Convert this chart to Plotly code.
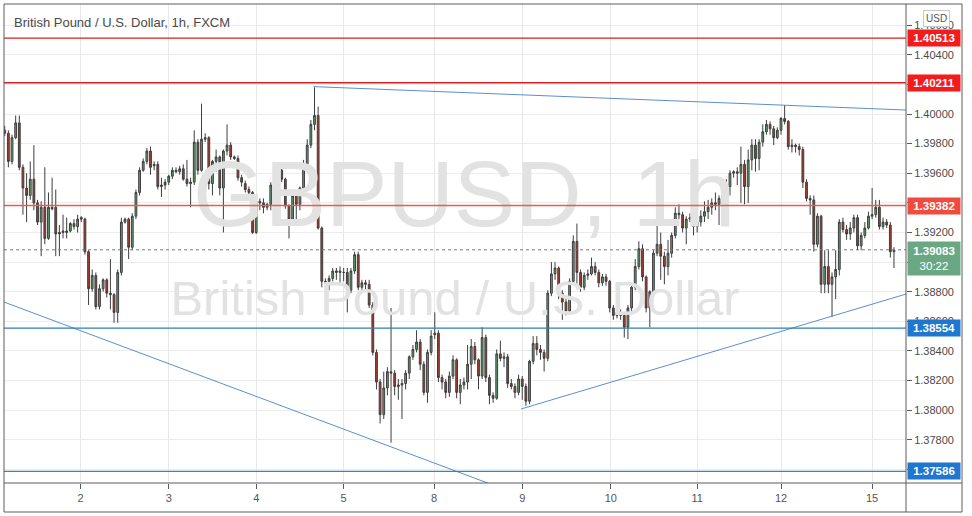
import plotly.graph_objects as go

# ---------------- data ----------------
day_ticks = [20.8, 45, 69, 93, 117.8, 142, 166.3, 190, 213, 238]
day_labels = ["2", "3", "4", "5", "8", "9", "10", "11", "12", "15"]

opens = [
    1.3989, 1.3987, 1.3968, 1.3984, 1.3994, 1.3964, 1.3950, 1.3945, 1.3956, 1.3940,
    1.3927, 1.3937, 1.3916, 1.3937, 1.3937, 1.3919, 1.3920, 1.3920, 1.3921, 1.3926,
    1.3924, 1.3929, 1.3929, 1.3907, 1.3882, 1.3891, 1.3870, 1.3882, 1.3888, 1.3879,
    1.3878, 1.3866, 1.3893, 1.3927, 1.3929, 1.3910, 1.3931, 1.3947, 1.3962, 1.3968,
    1.3975, 1.3965, 1.3966, 1.3951, 1.3952, 1.3954, 1.3958, 1.3962, 1.3961, 1.3963,
    1.3956, 1.3953, 1.3954, 1.3981, 1.3962, 1.3983, 1.3984, 1.3953, 1.3968, 1.3971,
    1.3950, 1.3975, 1.3979, 1.3971, 1.3970, 1.3957, 1.3953, 1.3949, 1.3947, 1.3920,
    1.3941, 1.3940, 1.3937, 1.3939, 1.3952, 1.3956, 1.3962, 1.3956, 1.3938, 1.3929,
    1.3945, 1.3939, 1.3950, 1.3963, 1.3979, 1.3993, 1.3999, 1.3923, 1.3887, 1.3887,
    1.3889, 1.3893, 1.3894, 1.3893, 1.3893, 1.3881, 1.3894, 1.3905, 1.3883, 1.3886,
    1.3885, 1.3871, 1.3839, 1.3819, 1.3797, 1.3815, 1.3826, 1.3825, 1.3816, 1.3817,
    1.3818, 1.3825, 1.3836, 1.3841, 1.3846, 1.3831, 1.3812, 1.3839, 1.3851, 1.3852,
    1.3822, 1.3819, 1.3812, 1.3823, 1.3834, 1.3812, 1.3817, 1.3819, 1.3831, 1.3843,
    1.3834, 1.3823, 1.3849, 1.3822, 1.3810, 1.3808, 1.3838, 1.3835, 1.3836, 1.3818,
    1.3816, 1.3812, 1.3821, 1.3816, 1.3806, 1.3833, 1.3845, 1.3841, 1.3839, 1.3835,
    1.3879, 1.3892, 1.3896, 1.3879, 1.3873, 1.3867, 1.3887, 1.3914, 1.3893, 1.3883,
    1.3891, 1.3892, 1.3897, 1.3893, 1.3886, 1.3890, 1.3887, 1.3869, 1.3864, 1.3866,
    1.3864, 1.3856, 1.3869, 1.3883, 1.3897, 1.3909, 1.3890, 1.3869, 1.3880, 1.3906,
    1.3912, 1.3904, 1.3897, 1.3906, 1.3918, 1.3933, 1.3932, 1.3923, 1.3929, 1.3930,
    1.3924, 1.3927, 1.3931, 1.3934, 1.3937, 1.3940, 1.3939, 1.3943, 1.3947, 1.3951,
    1.3960, 1.3961, 1.3960, 1.3966, 1.3951, 1.3969, 1.3979, 1.3970, 1.3981, 1.3988,
    1.3993, 1.3990, 1.3984, 1.3989, 1.3997, 1.3995, 1.3978, 1.3979, 1.3978, 1.3976,
    1.3954, 1.3943, 1.3942, 1.3912, 1.3931, 1.3885, 1.3897, 1.3885, 1.3890, 1.3895,
    1.3927, 1.3922, 1.3919, 1.3923, 1.3930, 1.3911, 1.3918, 1.3923, 1.3931, 1.3932,
    1.3937, 1.3924, 1.3927, 1.3925, 1.3907,
]
highs = [
    1.3992, 1.3989, 1.3986, 1.3999, 1.3999, 1.3966, 1.3960, 1.3968, 1.3979, 1.3942,
    1.3941, 1.3964, 1.3947, 1.3957, 1.3949, 1.3925, 1.3932, 1.3930, 1.3927, 1.3929,
    1.3932, 1.3931, 1.3930, 1.3908, 1.3895, 1.3893, 1.3885, 1.3889, 1.3889, 1.3902,
    1.3879, 1.3895, 1.3930, 1.3930, 1.3930, 1.3933, 1.3949, 1.3964, 1.3970, 1.3977,
    1.3978, 1.3968, 1.3968, 1.3957, 1.3956, 1.3959, 1.3964, 1.3964, 1.3965, 1.3966,
    1.3969, 1.3957, 1.3989, 1.3983, 1.4007, 1.3987, 1.3985, 1.3969, 1.3976, 1.3972,
    1.3976, 1.3993, 1.3981, 1.3972, 1.3972, 1.3959, 1.3955, 1.3951, 1.3948, 1.3943,
    1.3943, 1.3943, 1.3940, 1.3954, 1.3957, 1.3966, 1.3964, 1.3957, 1.3939, 1.3947,
    1.3947, 1.3951, 1.3969, 1.3983, 1.3996, 1.4018, 1.4005, 1.3924, 1.3889, 1.3891,
    1.3896, 1.3896, 1.3897, 1.3896, 1.3896, 1.3896, 1.3907, 1.3907, 1.3888, 1.3888,
    1.3888, 1.3873, 1.3841, 1.3821, 1.3826, 1.3829, 1.3869, 1.3827, 1.3821, 1.3821,
    1.3827, 1.3837, 1.3844, 1.3854, 1.3848, 1.3833, 1.3841, 1.3854, 1.3866, 1.3854,
    1.3824, 1.3821, 1.3826, 1.3837, 1.3835, 1.3821, 1.3822, 1.3844, 1.3848, 1.3846,
    1.3835, 1.3856, 1.3851, 1.3824, 1.3812, 1.3841, 1.3847, 1.3839, 1.3838, 1.3821,
    1.3818, 1.3824, 1.3823, 1.3818, 1.3834, 1.3850, 1.3850, 1.3844, 1.3841, 1.3881,
    1.3900, 1.3900, 1.3897, 1.3881, 1.3875, 1.3889, 1.3918, 1.3926, 1.3895, 1.3893,
    1.3895, 1.3903, 1.3900, 1.3895, 1.3892, 1.3892, 1.3888, 1.3871, 1.3869, 1.3868,
    1.3866, 1.3871, 1.3886, 1.3902, 1.3914, 1.3912, 1.3891, 1.3881, 1.3908, 1.3934,
    1.3920, 1.3907, 1.3915, 1.3920, 1.3937, 1.3939, 1.3934, 1.3931, 1.3933, 1.3932,
    1.3931, 1.3935, 1.3941, 1.3942, 1.3943, 1.3947, 1.3945, 1.3951, 1.3956, 1.3962,
    1.3962, 1.3964, 1.3978, 1.3969, 1.3976, 1.3983, 1.3983, 1.3983, 1.3993, 1.3996,
    1.3995, 1.3992, 1.3991, 1.3998, 1.4006, 1.3996, 1.3983, 1.3980, 1.3980, 1.3978,
    1.3956, 1.3945, 1.3945, 1.3933, 1.3932, 1.3908, 1.3908, 1.3893, 1.3908, 1.3929,
    1.3930, 1.3925, 1.3927, 1.3932, 1.3932, 1.3920, 1.3927, 1.3934, 1.3950, 1.3942,
    1.3942, 1.3930, 1.3929, 1.3927, 1.3910,
]
lows = [
    1.3985, 1.3964, 1.3966, 1.3983, 1.3962, 1.3932, 1.3927, 1.3942, 1.3935, 1.3925,
    1.3904, 1.3912, 1.3915, 1.3935, 1.3904, 1.3904, 1.3916, 1.3916, 1.3920, 1.3922,
    1.3920, 1.3927, 1.3905, 1.3871, 1.3880, 1.3868, 1.3868, 1.3880, 1.3876, 1.3868,
    1.3859, 1.3859, 1.3891, 1.3926, 1.3902, 1.3908, 1.3929, 1.3945, 1.3961, 1.3966,
    1.3959, 1.3962, 1.3949, 1.3944, 1.3949, 1.3952, 1.3956, 1.3960, 1.3959, 1.3955,
    1.3951, 1.3937, 1.3952, 1.3959, 1.3961, 1.3981, 1.3949, 1.3945, 1.3961, 1.3945,
    1.3920, 1.3972, 1.3969, 1.3969, 1.3955, 1.3951, 1.3947, 1.3945, 1.3919, 1.3919,
    1.3935, 1.3933, 1.3935, 1.3935, 1.3949, 1.3954, 1.3954, 1.3936, 1.3916, 1.3925,
    1.3925, 1.3935, 1.3947, 1.3961, 1.3977, 1.3989, 1.3922, 1.3883, 1.3881, 1.3881,
    1.3887, 1.3888, 1.3885, 1.3887, 1.3866, 1.3879, 1.3892, 1.3881, 1.3880, 1.3881,
    1.3869, 1.3837, 1.3814, 1.3791, 1.3794, 1.3810, 1.3778, 1.3810, 1.3807, 1.3794,
    1.3814, 1.3821, 1.3834, 1.3839, 1.3827, 1.3810, 1.3805, 1.3837, 1.3848, 1.3819,
    1.3814, 1.3808, 1.3809, 1.3821, 1.3808, 1.3804, 1.3814, 1.3814, 1.3821, 1.3831,
    1.3814, 1.3821, 1.3819, 1.3804, 1.3805, 1.3807, 1.3833, 1.3829, 1.3815, 1.3814,
    1.3808, 1.3810, 1.3807, 1.3803, 1.3804, 1.3831, 1.3837, 1.3834, 1.3826, 1.3833,
    1.3877, 1.3888, 1.3875, 1.3861, 1.3864, 1.3865, 1.3885, 1.3883, 1.3880, 1.3881,
    1.3888, 1.3891, 1.3891, 1.3883, 1.3884, 1.3884, 1.3866, 1.3861, 1.3862, 1.3861,
    1.3849, 1.3848, 1.3866, 1.3881, 1.3895, 1.3887, 1.3866, 1.3856, 1.3878, 1.3904,
    1.3888, 1.3885, 1.3891, 1.3903, 1.3916, 1.3929, 1.3920, 1.3912, 1.3927, 1.3918,
    1.3920, 1.3924, 1.3927, 1.3929, 1.3932, 1.3935, 1.3925, 1.3934, 1.3939, 1.3945,
    1.3957, 1.3952, 1.3940, 1.3939, 1.3940, 1.3962, 1.3961, 1.3962, 1.3978, 1.3986,
    1.3986, 1.3979, 1.3983, 1.3986, 1.3993, 1.3976, 1.3974, 1.3974, 1.3972, 1.3950,
    1.3941, 1.3932, 1.3907, 1.3910, 1.3879, 1.3879, 1.3879, 1.3863, 1.3875, 1.3891,
    1.3920, 1.3915, 1.3915, 1.3920, 1.3908, 1.3908, 1.3916, 1.3922, 1.3929, 1.3930,
    1.3922, 1.3922, 1.3923, 1.3903, 1.3896,
]
closes = [
    1.3987, 1.3968, 1.3984, 1.3994, 1.3964, 1.3950, 1.3945, 1.3956, 1.3940, 1.3927,
    1.3937, 1.3916, 1.3937, 1.3936, 1.3919, 1.3920, 1.3921, 1.3921, 1.3926, 1.3924,
    1.3929, 1.3930, 1.3907, 1.3882, 1.3891, 1.3870, 1.3882, 1.3888, 1.3879, 1.3878,
    1.3866, 1.3893, 1.3927, 1.3929, 1.3910, 1.3931, 1.3947, 1.3962, 1.3968, 1.3975,
    1.3964, 1.3966, 1.3951, 1.3952, 1.3954, 1.3958, 1.3962, 1.3961, 1.3963, 1.3956,
    1.3953, 1.3954, 1.3981, 1.3962, 1.3983, 1.3984, 1.3953, 1.3968, 1.3971, 1.3950,
    1.3975, 1.3979, 1.3971, 1.3970, 1.3957, 1.3954, 1.3949, 1.3947, 1.3920, 1.3941,
    1.3940, 1.3937, 1.3939, 1.3952, 1.3956, 1.3962, 1.3956, 1.3938, 1.3929, 1.3945,
    1.3939, 1.3950, 1.3963, 1.3979, 1.3993, 1.3999, 1.3923, 1.3887, 1.3886, 1.3889,
    1.3894, 1.3894, 1.3893, 1.3893, 1.3881, 1.3894, 1.3905, 1.3883, 1.3886, 1.3885,
    1.3871, 1.3839, 1.3819, 1.3797, 1.3815, 1.3826, 1.3825, 1.3816, 1.3817, 1.3818,
    1.3825, 1.3836, 1.3841, 1.3846, 1.3831, 1.3812, 1.3839, 1.3850, 1.3852, 1.3822,
    1.3819, 1.3812, 1.3823, 1.3834, 1.3812, 1.3817, 1.3819, 1.3831, 1.3843, 1.3834,
    1.3823, 1.3849, 1.3822, 1.3810, 1.3808, 1.3838, 1.3835, 1.3836, 1.3818, 1.3816,
    1.3812, 1.3821, 1.3816, 1.3806, 1.3833, 1.3845, 1.3841, 1.3839, 1.3835, 1.3879,
    1.3892, 1.3896, 1.3879, 1.3873, 1.3867, 1.3887, 1.3914, 1.3893, 1.3883, 1.3891,
    1.3892, 1.3897, 1.3893, 1.3886, 1.3890, 1.3887, 1.3869, 1.3864, 1.3866, 1.3864,
    1.3856, 1.3869, 1.3883, 1.3897, 1.3909, 1.3890, 1.3869, 1.3880, 1.3906, 1.3912,
    1.3904, 1.3897, 1.3906, 1.3918, 1.3933, 1.3932, 1.3923, 1.3929, 1.3930, 1.3924,
    1.3927, 1.3931, 1.3934, 1.3937, 1.3940, 1.3939, 1.3943, 1.3947, 1.3951, 1.3960,
    1.3961, 1.3960, 1.3966, 1.3951, 1.3969, 1.3979, 1.3970, 1.3981, 1.3988, 1.3993,
    1.3990, 1.3984, 1.3989, 1.3997, 1.3995, 1.3978, 1.3979, 1.3978, 1.3976, 1.3954,
    1.3943, 1.3942, 1.3912, 1.3931, 1.3885, 1.3897, 1.3885, 1.3890, 1.3895, 1.3927,
    1.3922, 1.3919, 1.3923, 1.3930, 1.3911, 1.3918, 1.3923, 1.3931, 1.3932, 1.3937,
    1.3924, 1.3927, 1.3925, 1.3907, 1.3908,
]

level_prices = [1.40513, 1.40211, 1.39382, 1.38554, 1.37586]
level_labels = ["1.40513", "1.40211", "1.39382", "1.38554", "1.37586"]
last_price = 1.39083
last_countdown = "30:22"

trend_top_x = [84.7, 247.3]
trend_top_y = [1.40185, 1.40027]
trend_left_x = [-0.2, 140]
trend_left_y = [1.38730, 1.37439]
trend_right_x = [141.7, 247.3]
trend_right_y = [1.38008, 1.38784]

title_text = "British Pound / U.S. Dollar, 1h, FXCM"
wm_symbol = "GBPUSD, 1h"
wm_desc = "British Pound / U.S. Dollar"

# ---------------- styling ----------------
FONT = "Liberation Sans, Arial, sans-serif"
x_idx = list(range(len(closes)))
x_range = [-0.2, 247.3]
y_range = [1.37508, 1.40743]

level_line_colors = ["#d42020", "#d42020", "#ee5a4e", "#2b7fb8", "#3384c0"]
level_box_colors = ["#f21c1c", "#f21c1c", "#ef4b3f", "#1f77d0", "#1f77d0"]

fig = go.Figure()

# watermark (behind candles)
x_mid = (x_range[0] + x_range[1]) / 2
fig.add_trace(go.Scatter(
    x=[x_mid + 2.5], y=[1.39400], mode="text", text=[wm_symbol],
    textfont=dict(size=92, color="#e2e2e2", family=FONT), hoverinfo="skip", showlegend=False))
fig.add_trace(go.Scatter(
    x=[x_mid], y=[1.38725], mode="text", text=[wm_desc],
    textfont=dict(size=49, color="#e2e2e2", family=FONT), hoverinfo="skip", showlegend=False))

# last price dotted line
fig.add_trace(go.Scatter(x=x_range, y=[last_price, last_price], mode="lines",
                         line=dict(color="#7a7a7a", width=1, dash="dot"),
                         hoverinfo="skip", showlegend=False))

# trend lines
for tx, ty in [(trend_top_x, trend_top_y), (trend_left_x, trend_left_y), (trend_right_x, trend_right_y)]:
    fig.add_trace(go.Scatter(x=tx, y=ty, mode="lines", line=dict(color="#5a8fd0", width=1),
                             hoverinfo="skip", showlegend=False))

fig.add_trace(go.Candlestick(
    x=x_idx, open=opens, high=highs, low=lows, close=closes,
    increasing=dict(fillcolor="#5ba26f", line=dict(color="#3e3e3e", width=1)),
    decreasing=dict(fillcolor="#aa3b30", line=dict(color="#3e3e3e", width=1)),
    whiskerwidth=0, showlegend=False, hoverinfo="skip"))

# horizontal levels, drawn over the candles
for p, c in zip(level_prices, level_line_colors):
    fig.add_trace(go.Scatter(x=x_range, y=[p, p], mode="lines", line=dict(color=c, width=1.3),
                             hoverinfo="skip", showlegend=False))

# frame
W, H = 972, 516
L, R, T, B = 4, 66, 4, 33
pw, ph = W - L - R, H - T - B


def px(xp):
    return (xp - L) / pw


def py(yp):
    return (H - B - yp) / ph


frame = "#5c5c5c"
xr = px(962)
yb = py(512)
shapes = [
    dict(type="line", xref="paper", yref="paper", x0=0, x1=xr, y0=1, y1=1, line=dict(color=frame, width=1)),
    dict(type="line", xref="paper", yref="paper", x0=0, x1=xr, y0=yb, y1=yb, line=dict(color=frame, width=1)),
    dict(type="line", xref="paper", yref="paper", x0=0, x1=0, y0=yb, y1=1, line=dict(color=frame, width=1)),
    dict(type="line", xref="paper", yref="paper", x0=xr, x1=xr, y0=yb, y1=1, line=dict(color=frame, width=1)),
    dict(type="line", xref="paper", yref="paper", x0=1, x1=1, y0=yb, y1=1, line=dict(color=frame, width=1)),
    dict(type="line", xref="paper", yref="paper", x0=0, x1=xr, y0=0, y1=0, line=dict(color=frame, width=1)),
]

annotations = []
for p, lab, c in zip(level_prices, level_labels, level_box_colors):
    annotations.append(dict(xref="paper", x=1, xanchor="left", xshift=1, yref="y", y=p,
                            yanchor="middle", text="<b>" + lab + "</b>", showarrow=False,
                            bgcolor=c, borderpad=1, width=50, height=14,
                            font=dict(color="white", size=11.5, family=FONT)))
annotations.append(dict(xref="paper", x=1, xanchor="left", xshift=1, yref="y", y=last_price,
                        yanchor="top", yshift=9,
                        text="<b>%.5f</b><br>%s" % (last_price, last_countdown), showarrow=False,
                        bgcolor="#6aa884", borderpad=1, width=50, height=31,
                        align="center", font=dict(color="white", size=11.5, family=FONT)))
annotations.append(dict(xref="paper", x=px(936), xanchor="center", yref="paper", y=py(19),
                        yanchor="middle", text="USD", showarrow=False, bgcolor="white",
                        bordercolor="#c8c8c8", borderwidth=1, borderpad=2,
                        font=dict(color="#555", size=10, family=FONT)))
annotations.append(dict(xref="paper", x=px(12), xanchor="left", yref="paper", y=py(22),
                        yanchor="middle", text=title_text, showarrow=False,
                        font=dict(color="#4a4a4a", size=13, family=FONT)))

fig.update_layout(
    width=W, height=H, margin=dict(l=L, r=R, t=T, b=B, autoexpand=False),
    paper_bgcolor="white", plot_bgcolor="white",
    showlegend=False, hovermode=False,
    shapes=shapes, annotations=annotations,
    xaxis=dict(range=x_range, tickvals=day_ticks, ticktext=day_labels,
               showgrid=True, gridcolor="#e8e8e8", gridwidth=1, zeroline=False,
               ticks="outside", ticklen=5, tickcolor="#5c5c5c", showline=False,
               tickfont=dict(size=11, color="#555", family=FONT), automargin=False,
               rangeslider=dict(visible=False), fixedrange=True),
    yaxis=dict(range=y_range, side="right", tick0=1.376, dtick=0.002, tickformat=".5f",
               showgrid=True, gridcolor="#ececec", gridwidth=1, zeroline=False,
               ticks="outside", ticklen=5, tickcolor="#5c5c5c", showline=False,
               tickfont=dict(size=11, color="#4a4a4a", family=FONT), automargin=False,
               fixedrange=True),
)

fig.write_html("out.html", config={"displayModeBar": False},
               post_script="document.body.style.margin='0';document.body.style.overflow='hidden';")
